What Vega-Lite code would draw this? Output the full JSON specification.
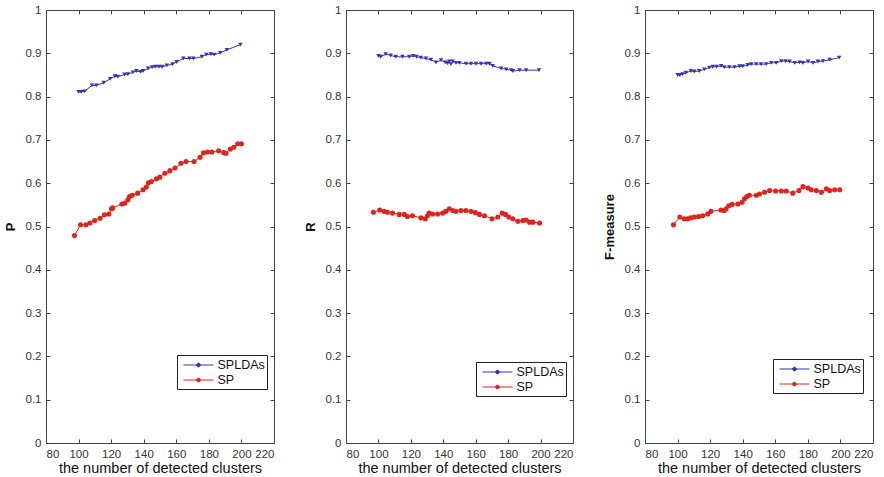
{
  "$schema": "https://vega.github.io/schema/vega-lite/v6.json",
  "autosize": {"type": "pad"},
  "padding": {"left": 4, "top": 4, "right": 0, "bottom": 0},
  "background": "white",
  "config": {
    "font": "Liberation Sans",
    "view": {"stroke": null},
    "axis": {
      "labelFont": "Liberation Sans", "labelFontSize": 11.5, "labelColor": "#333",
      "titleFont": "Liberation Sans", "titleColor": "#111",
      "domainColor": "#444", "tickColor": "#444", "grid": false,
      "tickSize": -4, "labelPadding": 9
    },
    "legend": {
      "labelFont": "Liberation Sans", "labelFontSize": 12.5, "labelColor": "#111",
      "title": null, "orient": "none",
      "symbolType": "M-2,0H2M0.25,0A0.25,0.25,0,1,1,-0.25,0A0.25,0.25,0,1,1,0.25,0Z",
      "symbolSize": 225, "symbolStrokeWidth": 1, "symbolOffset": 11.5,
      "strokeColor": "#222", "fillColor": "white", "padding": 2, "rowPadding": 0,
      "labelOffset": 11, "cornerRadius": 0
    }
  },
  "datasets": {
    "d": [
      {"metric":"P","method":"SPLDAs","n":100.0,"value":0.811},
      {"metric":"P","method":"SPLDAs","n":101.6,"value":0.811},
      {"metric":"P","method":"SPLDAs","n":103.7,"value":0.812},
      {"metric":"P","method":"SPLDAs","n":108.2,"value":0.826},
      {"metric":"P","method":"SPLDAs","n":110.9,"value":0.826},
      {"metric":"P","method":"SPLDAs","n":115.5,"value":0.832},
      {"metric":"P","method":"SPLDAs","n":119.4,"value":0.841},
      {"metric":"P","method":"SPLDAs","n":122.3,"value":0.847},
      {"metric":"P","method":"SPLDAs","n":124.1,"value":0.846},
      {"metric":"P","method":"SPLDAs","n":128.2,"value":0.851},
      {"metric":"P","method":"SPLDAs","n":130.3,"value":0.852},
      {"metric":"P","method":"SPLDAs","n":133.4,"value":0.856},
      {"metric":"P","method":"SPLDAs","n":135.5,"value":0.859},
      {"metric":"P","method":"SPLDAs","n":138.1,"value":0.857},
      {"metric":"P","method":"SPLDAs","n":139.6,"value":0.859},
      {"metric":"P","method":"SPLDAs","n":142.7,"value":0.865},
      {"metric":"P","method":"SPLDAs","n":145.2,"value":0.868},
      {"metric":"P","method":"SPLDAs","n":147.2,"value":0.869},
      {"metric":"P","method":"SPLDAs","n":149.3,"value":0.869},
      {"metric":"P","method":"SPLDAs","n":151.3,"value":0.869},
      {"metric":"P","method":"SPLDAs","n":154.2,"value":0.872},
      {"metric":"P","method":"SPLDAs","n":157.7,"value":0.875},
      {"metric":"P","method":"SPLDAs","n":160.2,"value":0.880},
      {"metric":"P","method":"SPLDAs","n":164.3,"value":0.888},
      {"metric":"P","method":"SPLDAs","n":168.0,"value":0.888},
      {"metric":"P","method":"SPLDAs","n":170.5,"value":0.888},
      {"metric":"P","method":"SPLDAs","n":175.7,"value":0.892},
      {"metric":"P","method":"SPLDAs","n":178.4,"value":0.897},
      {"metric":"P","method":"SPLDAs","n":181.2,"value":0.898},
      {"metric":"P","method":"SPLDAs","n":183.3,"value":0.897},
      {"metric":"P","method":"SPLDAs","n":187.0,"value":0.901},
      {"metric":"P","method":"SPLDAs","n":191.1,"value":0.908},
      {"metric":"P","method":"SPLDAs","n":199.4,"value":0.920},
      {"metric":"P","method":"SP","n":97.5,"value":0.479},
      {"metric":"P","method":"SP","n":101.2,"value":0.504},
      {"metric":"P","method":"SP","n":104.5,"value":0.504},
      {"metric":"P","method":"SP","n":107.0,"value":0.508},
      {"metric":"P","method":"SP","n":109.9,"value":0.514},
      {"metric":"P","method":"SP","n":113.2,"value":0.519},
      {"metric":"P","method":"SP","n":115.9,"value":0.527},
      {"metric":"P","method":"SP","n":118.6,"value":0.529},
      {"metric":"P","method":"SP","n":120.2,"value":0.541},
      {"metric":"P","method":"SP","n":121.0,"value":0.543},
      {"metric":"P","method":"SP","n":126.6,"value":0.552},
      {"metric":"P","method":"SP","n":128.5,"value":0.554},
      {"metric":"P","method":"SP","n":130.3,"value":0.562},
      {"metric":"P","method":"SP","n":131.3,"value":0.569},
      {"metric":"P","method":"SP","n":133.0,"value":0.572},
      {"metric":"P","method":"SP","n":136.3,"value":0.577},
      {"metric":"P","method":"SP","n":139.6,"value":0.585},
      {"metric":"P","method":"SP","n":141.6,"value":0.591},
      {"metric":"P","method":"SP","n":142.9,"value":0.601},
      {"metric":"P","method":"SP","n":144.7,"value":0.604},
      {"metric":"P","method":"SP","n":147.8,"value":0.610},
      {"metric":"P","method":"SP","n":149.9,"value":0.614},
      {"metric":"P","method":"SP","n":153.0,"value":0.623},
      {"metric":"P","method":"SP","n":156.1,"value":0.629},
      {"metric":"P","method":"SP","n":159.2,"value":0.635},
      {"metric":"P","method":"SP","n":162.9,"value":0.646},
      {"metric":"P","method":"SP","n":166.0,"value":0.650},
      {"metric":"P","method":"SP","n":170.9,"value":0.650},
      {"metric":"P","method":"SP","n":174.6,"value":0.660},
      {"metric":"P","method":"SP","n":176.7,"value":0.670},
      {"metric":"P","method":"SP","n":179.2,"value":0.672},
      {"metric":"P","method":"SP","n":181.9,"value":0.672},
      {"metric":"P","method":"SP","n":186.0,"value":0.675},
      {"metric":"P","method":"SP","n":189.1,"value":0.671},
      {"metric":"P","method":"SP","n":190.5,"value":0.669},
      {"metric":"P","method":"SP","n":193.2,"value":0.679},
      {"metric":"P","method":"SP","n":195.3,"value":0.683},
      {"metric":"P","method":"SP","n":197.7,"value":0.691},
      {"metric":"P","method":"SP","n":200.0,"value":0.691},
      {"metric":"R","method":"SPLDAs","n":100.0,"value":0.894},
      {"metric":"R","method":"SPLDAs","n":101.4,"value":0.892},
      {"metric":"R","method":"SPLDAs","n":104.5,"value":0.898},
      {"metric":"R","method":"SPLDAs","n":107.6,"value":0.895},
      {"metric":"R","method":"SPLDAs","n":110.7,"value":0.892},
      {"metric":"R","method":"SPLDAs","n":114.8,"value":0.892},
      {"metric":"R","method":"SPLDAs","n":119.0,"value":0.892},
      {"metric":"R","method":"SPLDAs","n":121.4,"value":0.894},
      {"metric":"R","method":"SPLDAs","n":123.5,"value":0.892},
      {"metric":"R","method":"SPLDAs","n":126.2,"value":0.890},
      {"metric":"R","method":"SPLDAs","n":129.3,"value":0.888},
      {"metric":"R","method":"SPLDAs","n":132.4,"value":0.885},
      {"metric":"R","method":"SPLDAs","n":135.5,"value":0.879},
      {"metric":"R","method":"SPLDAs","n":138.6,"value":0.884},
      {"metric":"R","method":"SPLDAs","n":141.2,"value":0.879},
      {"metric":"R","method":"SPLDAs","n":142.7,"value":0.877},
      {"metric":"R","method":"SPLDAs","n":143.7,"value":0.881},
      {"metric":"R","method":"SPLDAs","n":144.7,"value":0.875},
      {"metric":"R","method":"SPLDAs","n":145.8,"value":0.881},
      {"metric":"R","method":"SPLDAs","n":147.8,"value":0.878},
      {"metric":"R","method":"SPLDAs","n":149.9,"value":0.878},
      {"metric":"R","method":"SPLDAs","n":154.0,"value":0.876},
      {"metric":"R","method":"SPLDAs","n":157.1,"value":0.876},
      {"metric":"R","method":"SPLDAs","n":160.2,"value":0.876},
      {"metric":"R","method":"SPLDAs","n":163.3,"value":0.876},
      {"metric":"R","method":"SPLDAs","n":166.4,"value":0.876},
      {"metric":"R","method":"SPLDAs","n":168.5,"value":0.876},
      {"metric":"R","method":"SPLDAs","n":170.5,"value":0.871},
      {"metric":"R","method":"SPLDAs","n":175.7,"value":0.865},
      {"metric":"R","method":"SPLDAs","n":178.8,"value":0.863},
      {"metric":"R","method":"SPLDAs","n":181.9,"value":0.861},
      {"metric":"R","method":"SPLDAs","n":182.9,"value":0.859},
      {"metric":"R","method":"SPLDAs","n":187.0,"value":0.861},
      {"metric":"R","method":"SPLDAs","n":191.1,"value":0.861},
      {"metric":"R","method":"SPLDAs","n":199.0,"value":0.861},
      {"metric":"R","method":"SP","n":96.9,"value":0.533},
      {"metric":"R","method":"SP","n":100.8,"value":0.538},
      {"metric":"R","method":"SP","n":103.5,"value":0.535},
      {"metric":"R","method":"SP","n":105.6,"value":0.533},
      {"metric":"R","method":"SP","n":108.7,"value":0.531},
      {"metric":"R","method":"SP","n":112.8,"value":0.528},
      {"metric":"R","method":"SP","n":115.9,"value":0.528},
      {"metric":"R","method":"SP","n":117.9,"value":0.523},
      {"metric":"R","method":"SP","n":121.0,"value":0.525},
      {"metric":"R","method":"SP","n":126.2,"value":0.520},
      {"metric":"R","method":"SP","n":128.9,"value":0.518},
      {"metric":"R","method":"SP","n":130.3,"value":0.525},
      {"metric":"R","method":"SP","n":131.3,"value":0.531},
      {"metric":"R","method":"SP","n":133.4,"value":0.529},
      {"metric":"R","method":"SP","n":136.5,"value":0.529},
      {"metric":"R","method":"SP","n":139.6,"value":0.531},
      {"metric":"R","method":"SP","n":141.6,"value":0.535},
      {"metric":"R","method":"SP","n":143.7,"value":0.541},
      {"metric":"R","method":"SP","n":145.8,"value":0.537},
      {"metric":"R","method":"SP","n":147.8,"value":0.535},
      {"metric":"R","method":"SP","n":150.9,"value":0.537},
      {"metric":"R","method":"SP","n":154.0,"value":0.537},
      {"metric":"R","method":"SP","n":157.1,"value":0.535},
      {"metric":"R","method":"SP","n":159.8,"value":0.532},
      {"metric":"R","method":"SP","n":162.3,"value":0.528},
      {"metric":"R","method":"SP","n":165.4,"value":0.525},
      {"metric":"R","method":"SP","n":170.1,"value":0.518},
      {"metric":"R","method":"SP","n":173.6,"value":0.522},
      {"metric":"R","method":"SP","n":176.3,"value":0.531},
      {"metric":"R","method":"SP","n":178.4,"value":0.528},
      {"metric":"R","method":"SP","n":180.4,"value":0.522},
      {"metric":"R","method":"SP","n":182.9,"value":0.518},
      {"metric":"R","method":"SP","n":186.0,"value":0.512},
      {"metric":"R","method":"SP","n":189.1,"value":0.514},
      {"metric":"R","method":"SP","n":191.1,"value":0.515},
      {"metric":"R","method":"SP","n":193.2,"value":0.510},
      {"metric":"R","method":"SP","n":195.3,"value":0.510},
      {"metric":"R","method":"SP","n":199.4,"value":0.508},
      {"metric":"F","method":"SPLDAs","n":100.0,"value":0.850},
      {"metric":"F","method":"SPLDAs","n":101.4,"value":0.850},
      {"metric":"F","method":"SPLDAs","n":103.1,"value":0.852},
      {"metric":"F","method":"SPLDAs","n":105.1,"value":0.855},
      {"metric":"F","method":"SPLDAs","n":108.2,"value":0.859},
      {"metric":"F","method":"SPLDAs","n":110.3,"value":0.858},
      {"metric":"F","method":"SPLDAs","n":113.3,"value":0.859},
      {"metric":"F","method":"SPLDAs","n":116.4,"value":0.863},
      {"metric":"F","method":"SPLDAs","n":119.5,"value":0.867},
      {"metric":"F","method":"SPLDAs","n":121.6,"value":0.869},
      {"metric":"F","method":"SPLDAs","n":124.0,"value":0.869},
      {"metric":"F","method":"SPLDAs","n":126.7,"value":0.871},
      {"metric":"F","method":"SPLDAs","n":128.7,"value":0.868},
      {"metric":"F","method":"SPLDAs","n":131.8,"value":0.868},
      {"metric":"F","method":"SPLDAs","n":134.9,"value":0.868},
      {"metric":"F","method":"SPLDAs","n":138.0,"value":0.870},
      {"metric":"F","method":"SPLDAs","n":140.0,"value":0.870},
      {"metric":"F","method":"SPLDAs","n":143.1,"value":0.873},
      {"metric":"F","method":"SPLDAs","n":145.2,"value":0.875},
      {"metric":"F","method":"SPLDAs","n":148.3,"value":0.875},
      {"metric":"F","method":"SPLDAs","n":151.3,"value":0.875},
      {"metric":"F","method":"SPLDAs","n":154.4,"value":0.875},
      {"metric":"F","method":"SPLDAs","n":157.5,"value":0.878},
      {"metric":"F","method":"SPLDAs","n":160.6,"value":0.878},
      {"metric":"F","method":"SPLDAs","n":163.7,"value":0.882},
      {"metric":"F","method":"SPLDAs","n":166.3,"value":0.882},
      {"metric":"F","method":"SPLDAs","n":168.8,"value":0.881},
      {"metric":"F","method":"SPLDAs","n":171.9,"value":0.878},
      {"metric":"F","method":"SPLDAs","n":174.9,"value":0.879},
      {"metric":"F","method":"SPLDAs","n":177.0,"value":0.878},
      {"metric":"F","method":"SPLDAs","n":180.1,"value":0.881},
      {"metric":"F","method":"SPLDAs","n":183.2,"value":0.878},
      {"metric":"F","method":"SPLDAs","n":186.2,"value":0.881},
      {"metric":"F","method":"SPLDAs","n":189.3,"value":0.882},
      {"metric":"F","method":"SPLDAs","n":193.4,"value":0.885},
      {"metric":"F","method":"SPLDAs","n":199.2,"value":0.890},
      {"metric":"F","method":"SP","n":97.5,"value":0.504},
      {"metric":"F","method":"SP","n":101.4,"value":0.522},
      {"metric":"F","method":"SP","n":104.1,"value":0.518},
      {"metric":"F","method":"SP","n":106.2,"value":0.518},
      {"metric":"F","method":"SP","n":108.2,"value":0.520},
      {"metric":"F","method":"SP","n":110.3,"value":0.522},
      {"metric":"F","method":"SP","n":112.9,"value":0.523},
      {"metric":"F","method":"SP","n":115.4,"value":0.525},
      {"metric":"F","method":"SP","n":118.5,"value":0.529},
      {"metric":"F","method":"SP","n":120.5,"value":0.535},
      {"metric":"F","method":"SP","n":126.7,"value":0.538},
      {"metric":"F","method":"SP","n":128.7,"value":0.537},
      {"metric":"F","method":"SP","n":129.8,"value":0.541},
      {"metric":"F","method":"SP","n":131.4,"value":0.548},
      {"metric":"F","method":"SP","n":133.5,"value":0.551},
      {"metric":"F","method":"SP","n":137.0,"value":0.552},
      {"metric":"F","method":"SP","n":139.6,"value":0.556},
      {"metric":"F","method":"SP","n":141.1,"value":0.564},
      {"metric":"F","method":"SP","n":142.5,"value":0.569},
      {"metric":"F","method":"SP","n":144.1,"value":0.572},
      {"metric":"F","method":"SP","n":148.3,"value":0.572},
      {"metric":"F","method":"SP","n":150.3,"value":0.575},
      {"metric":"F","method":"SP","n":153.4,"value":0.579},
      {"metric":"F","method":"SP","n":156.5,"value":0.583},
      {"metric":"F","method":"SP","n":160.2,"value":0.582},
      {"metric":"F","method":"SP","n":163.7,"value":0.582},
      {"metric":"F","method":"SP","n":166.7,"value":0.582},
      {"metric":"F","method":"SP","n":170.8,"value":0.577},
      {"metric":"F","method":"SP","n":174.5,"value":0.583},
      {"metric":"F","method":"SP","n":177.0,"value":0.592},
      {"metric":"F","method":"SP","n":180.1,"value":0.589},
      {"metric":"F","method":"SP","n":182.1,"value":0.585},
      {"metric":"F","method":"SP","n":185.2,"value":0.583},
      {"metric":"F","method":"SP","n":188.3,"value":0.579},
      {"metric":"F","method":"SP","n":191.4,"value":0.587},
      {"metric":"F","method":"SP","n":193.4,"value":0.583},
      {"metric":"F","method":"SP","n":196.5,"value":0.585},
      {"metric":"F","method":"SP","n":199.6,"value":0.585}
    ]
  },
  "data": {"name": "d"},
  "spacing": 72,
  "bounds": "flush",
  "resolve": {"legend": {"color": "independent"}},
  "hconcat": [
    {
      "width": 228, "height": 433,
      "transform": [{"filter": "datum.metric === 'P'"}],
      "layer": [
        {
          "mark": {"type": "line", "strokeWidth": 1},
          "encoding": {
            "x": {"field": "n", "type": "quantitative", "scale": {"domain": [80, 220], "nice": false},
                  "axis": {"orient": "bottom", "values": [80,100,120,140,160,180,200,220], "title": "the number of detected clusters", "titleFontSize": 14.5, "titleFontWeight": "normal", "titlePadding": 2}},
            "y": {"field": "value", "type": "quantitative", "scale": {"domain": [0, 1], "nice": false},
                  "axis": {"orient": "left", "values": [0,0.1,0.2,0.3,0.4,0.5,0.6,0.7,0.8,0.9,1], "format": "~g", "title": "P", "titleFontSize": 13, "titleFontWeight": "bold", "titlePadding": 8}},
            "color": {"field": "method", "type": "nominal", "scale": {"domain": ["SPLDAs", "SP"], "range": ["#3535b0", "#e0231d"]},
                      "legend": {"legendX": 131, "legendY": 345}}
          }
        },
        {
          "mark": {"type": "point", "filled": true, "opacity": 1},
          "encoding": {
            "x": {"field": "n", "type": "quantitative", "axis": {"orient": "top", "values": [80,100,120,140,160,180,200,220], "labels": false, "title": null}},
            "y": {"field": "value", "type": "quantitative", "axis": {"orient": "right", "values": [0,0.1,0.2,0.3,0.4,0.5,0.6,0.7,0.8,0.9,1], "labels": false, "title": null}},
            "color": {"field": "method", "type": "nominal"},
            "shape": {"field": "method", "type": "nominal", "scale": {"domain": ["SPLDAs", "SP"], "range": ["triangle-down", "circle"]}, "legend": null},
            "size": {"field": "method", "type": "nominal", "scale": {"domain": ["SPLDAs", "SP"], "range": [20, 26]}, "legend": null}
          }
        }
      ],
      "resolve": {"axis": {"x": "independent", "y": "independent"}}
    },
    {
      "width": 227, "height": 433,
      "transform": [{"filter": "datum.metric === 'R'"}],
      "layer": [
        {
          "mark": {"type": "line", "strokeWidth": 1},
          "encoding": {
            "x": {"field": "n", "type": "quantitative", "scale": {"domain": [80, 220], "nice": false},
                  "axis": {"orient": "bottom", "values": [80,100,120,140,160,180,200,220], "title": "the number of detected clusters", "titleFontSize": 14.5, "titleFontWeight": "normal", "titlePadding": 2}},
            "y": {"field": "value", "type": "quantitative", "scale": {"domain": [0, 1], "nice": false},
                  "axis": {"orient": "left", "values": [0,0.1,0.2,0.3,0.4,0.5,0.6,0.7,0.8,0.9,1], "format": "~g", "title": "R", "titleFontSize": 13, "titleFontWeight": "bold", "titlePadding": 8}},
            "color": {"field": "method", "type": "nominal", "scale": {"domain": ["SPLDAs", "SP"], "range": ["#3535b0", "#e0231d"]},
                      "legend": {"legendX": 130, "legendY": 352}}
          }
        },
        {
          "mark": {"type": "point", "filled": true, "opacity": 1},
          "encoding": {
            "x": {"field": "n", "type": "quantitative", "axis": {"orient": "top", "values": [80,100,120,140,160,180,200,220], "labels": false, "title": null}},
            "y": {"field": "value", "type": "quantitative", "axis": {"orient": "right", "values": [0,0.1,0.2,0.3,0.4,0.5,0.6,0.7,0.8,0.9,1], "labels": false, "title": null}},
            "color": {"field": "method", "type": "nominal"},
            "shape": {"field": "method", "type": "nominal", "scale": {"domain": ["SPLDAs", "SP"], "range": ["triangle-down", "circle"]}, "legend": null},
            "size": {"field": "method", "type": "nominal", "scale": {"domain": ["SPLDAs", "SP"], "range": [20, 26]}, "legend": null}
          }
        }
      ],
      "resolve": {"axis": {"x": "independent", "y": "independent"}}
    },
    {
      "width": 228, "height": 433,
      "transform": [{"filter": "datum.metric === 'F'"}],
      "layer": [
        {
          "mark": {"type": "line", "strokeWidth": 1},
          "encoding": {
            "x": {"field": "n", "type": "quantitative", "scale": {"domain": [80, 220], "nice": false},
                  "axis": {"orient": "bottom", "values": [80,100,120,140,160,180,200,220], "title": "the number of detected clusters", "titleFontSize": 14.5, "titleFontWeight": "normal", "titlePadding": 2}},
            "y": {"field": "value", "type": "quantitative", "scale": {"domain": [0, 1], "nice": false},
                  "axis": {"orient": "left", "values": [0,0.1,0.2,0.3,0.4,0.5,0.6,0.7,0.8,0.9,1], "format": "~g", "title": "F-measure", "titleFontSize": 13, "titleFontWeight": "bold", "titlePadding": 8}},
            "color": {"field": "method", "type": "nominal", "scale": {"domain": ["SPLDAs", "SP"], "range": ["#3535b0", "#e0231d"]},
                      "legend": {"legendX": 128, "legendY": 349}}
          }
        },
        {
          "mark": {"type": "point", "filled": true, "opacity": 1},
          "encoding": {
            "x": {"field": "n", "type": "quantitative", "axis": {"orient": "top", "values": [80,100,120,140,160,180,200,220], "labels": false, "title": null}},
            "y": {"field": "value", "type": "quantitative", "axis": {"orient": "right", "values": [0,0.1,0.2,0.3,0.4,0.5,0.6,0.7,0.8,0.9,1], "labels": false, "title": null}},
            "color": {"field": "method", "type": "nominal"},
            "shape": {"field": "method", "type": "nominal", "scale": {"domain": ["SPLDAs", "SP"], "range": ["triangle-down", "circle"]}, "legend": null},
            "size": {"field": "method", "type": "nominal", "scale": {"domain": ["SPLDAs", "SP"], "range": [20, 26]}, "legend": null}
          }
        }
      ],
      "resolve": {"axis": {"x": "independent", "y": "independent"}}
    }
  ]
}
